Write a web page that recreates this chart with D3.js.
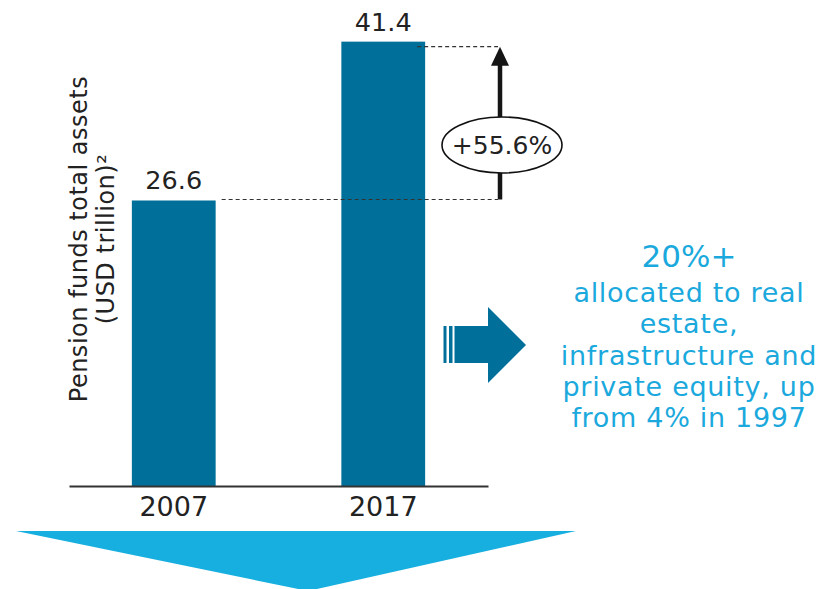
<!DOCTYPE html>
<html>
<head>
<meta charset="utf-8">
<script src="https://cdn.jsdelivr.net/npm/d3@7"></script>
<style>
  html, body { margin: 0; padding: 0; background: #ffffff; }
  svg { display: block; font-family: "DejaVu Sans", "Noto Sans", sans-serif; }
</style>
</head>
<body>
<svg id="chart" width="820" height="589"></svg>
<script>
// Pension fund assets, USD trillion
const years = ["2007", "2017"];
const assets = [26.6, 41.4];

// Axis title, two lines
const yTitleLines = ["Pension funds total assets", "(USD trillion)²"];

// Callout on the right
const noteHeadline = "20%+";
const noteLines = ["allocated to real", "estate,", "infrastructure and", "private equity, up", "from 4% in 1997"];

const barColor = "#00709a";
const cyan = "#17afdf";
const noteColor = "#1ba9dd";
const ink = "#222222";
const fontStack = "\"DejaVu Sans\", \"Noto Sans\", sans-serif";

const svg = d3.select("#chart");

const x = d3.scaleBand().domain(years).range([69, 488]).paddingInner(0.6).paddingOuter(0.3);
const y = d3.scaleLinear().domain([0, 45]).range([486, 3]);

const data = years.map((yr, i) => ({ year: yr, value: assets[i] }));

// Big downward chevron under the chart
svg.append("path")
  .attr("d", d3.line()([[16, 531], [576, 531], [308, 591]]) + "Z")
  .attr("fill", cyan);

// Bars
svg.append("g").selectAll("rect")
  .data(data)
  .join("rect")
  .attr("x", d => x(d.year))
  .attr("y", d => y(d.value))
  .attr("width", x.bandwidth())
  .attr("height", d => y(0) - y(d.value))
  .attr("fill", barColor);

// Value labels above the bars
svg.append("g").selectAll("text")
  .data(data)
  .join("text")
  .attr("x", d => x(d.year) + x.bandwidth() / 2)
  .attr("y", d => y(d.value) - 11)
  .attr("text-anchor", "middle")
  .attr("font-size", 25.5)
  .attr("fill", ink)
  .text(d => d.value.toFixed(1));

// Category axis
const xAxis = svg.append("g")
  .attr("transform", `translate(0,${y(0)})`)
  .call(d3.axisBottom(x).tickSize(0).tickSizeOuter(0).tickPadding(11));
xAxis.select(".domain").attr("stroke", "#333").attr("stroke-width", 2);
xAxis.selectAll(".tick text")
  .attr("font-size", 27)
  .attr("font-family", fontStack)
  .attr("fill", ink);

// Rotated axis title
const yTitle = svg.append("text")
  .attr("transform", "translate(87,239) rotate(-90)")
  .attr("text-anchor", "middle")
  .attr("font-size", 24)
  .attr("letter-spacing", 0.5)
  .attr("fill", ink);
yTitle.selectAll("tspan")
  .data(yTitleLines)
  .join("tspan")
  .attr("x", 0)
  .attr("dy", (d, i) => i === 0 ? 0 : 27)
  .text(d => d);

// Growth bracket: dashed guides, arrow and ratio badge
const [first, last] = data;
const growth = (last.value / first.value - 1) * 100;
const arrowX = 500;
const lowY = y(first.value) - 1;
const highY = y(last.value) + 5;

svg.append("line")
  .attr("x1", x(first.year) + x.bandwidth() + 6).attr("x2", arrowX - 2)
  .attr("y1", lowY).attr("y2", lowY)
  .attr("stroke", "#333").attr("stroke-width", 1.2).attr("stroke-dasharray", "4,3");
svg.append("line")
  .attr("x1", x(last.year) + x.bandwidth() - 8).attr("x2", arrowX - 2)
  .attr("y1", highY).attr("y2", highY)
  .attr("stroke", "#333").attr("stroke-width", 1.2).attr("stroke-dasharray", "4,3");

svg.append("line")
  .attr("x1", arrowX).attr("x2", arrowX)
  .attr("y1", lowY).attr("y2", highY + 16)
  .attr("stroke", "#151515").attr("stroke-width", 4.5);
svg.append("path")
  .attr("d", d3.line()([[arrowX - 9, highY + 19], [arrowX + 9, highY + 19], [arrowX, highY]]) + "Z")
  .attr("fill", "#151515");

svg.append("ellipse")
  .attr("cx", 502).attr("cy", 145).attr("rx", 60).attr("ry", 28)
  .attr("fill", "#fff").attr("stroke", "#111").attr("stroke-width", 1.6);
svg.append("text")
  .attr("x", 502).attr("y", 154)
  .attr("text-anchor", "middle")
  .attr("font-size", 25)
  .attr("fill", ink)
  .text("+" + growth.toFixed(1) + "%");

// Striped arrow pointing to the callout
const arrow = svg.append("g").attr("fill", barColor);
arrow.append("rect").attr("x", 443.5).attr("y", 326).attr("width", 3).attr("height", 37);
arrow.append("rect").attr("x", 449).attr("y", 326).attr("width", 3.5).attr("height", 37);
arrow.append("path")
  .attr("d", d3.line()([[454.5, 326], [488, 326], [488, 307], [526, 345], [488, 383], [488, 363], [454.5, 363]]) + "Z");

// Callout text
svg.append("text")
  .attr("x", 689).attr("y", 267)
  .attr("text-anchor", "middle")
  .attr("font-size", 31)
  .attr("fill", noteColor)
  .text(noteHeadline);
svg.append("g").selectAll("text")
  .data(noteLines)
  .join("text")
  .attr("x", 689)
  .attr("y", (d, i) => 302 + i * 31.3)
  .attr("text-anchor", "middle")
  .attr("font-size", 27)
  .attr("letter-spacing", 0.7)
  .attr("fill", noteColor)
  .text(d => d);
</script>
</body>
</html>
